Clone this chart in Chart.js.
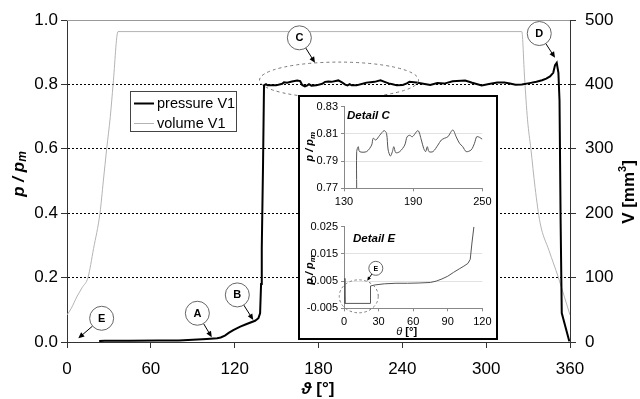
<!DOCTYPE html>
<html><head><meta charset="utf-8">
<script src="https://cdn.jsdelivr.net/npm/chart.js@4/dist/chart.umd.min.js"></script>
<style>
html,body{margin:0;padding:0;background:#fff;}
#wrap{position:relative;width:640px;height:399px;overflow:hidden;background:#fff;}
#main{position:absolute;left:0;top:0;}
#inset{position:absolute;left:298px;top:95px;width:196px;height:241px;border:2px solid #000;background:#fff;}
#cC{position:absolute;left:0;top:0;}
#cE{position:absolute;left:0;top:120px;}
</style></head><body>
<div id="wrap">
<canvas id="main" width="640" height="399"></canvas>
<div id="inset"><canvas id="cC" width="196" height="120"></canvas><canvas id="cE" width="196" height="121"></canvas></div>
</div>
<script>
// ---------- DATA ----------
const seriesLabels = ['pressure V1', 'volume V1'];

const thetaP = [23, 27, 45, 65, 80, 90, 100, 107.5, 110, 113, 116, 119, 124, 128.6, 134.6, 137, 138.2, 138.9, 139.4, 140.3, 141,
  142.4, 143.5, 149.6, 154, 155.3, 157.6, 161, 164.8, 166.9, 168.3, 170.3, 172, 173.2, 174.9, 178.4, 182.7, 184.7, 187, 189.3,
  194.2, 197.1, 199.1, 200.8, 202.3, 203.7, 207.2, 211.5, 214.4, 217.2, 220.1, 224.4, 227.3, 230.2, 233, 236, 240.3, 243.2, 245.1, 250,
  255, 260, 265, 270, 276, 285, 290, 296.8, 302, 308, 313, 317, 321, 325.5, 331, 336, 340, 343, 345.7, 348, 349.3, 350.5, 351.7, 352.5, 353.3, 354.1, 359.5];
const pressure = [0.003, 0.0036, 0.0042, 0.0043, 0.005, 0.0068, 0.0095, 0.0115, 0.014, 0.02, 0.029, 0.037, 0.048, 0.056, 0.066, 0.074, 0.089, 0.18, 0.29, 0.55, 0.797,
  0.8006, 0.797, 0.797, 0.8018, 0.8068, 0.8055, 0.809, 0.8124, 0.8104, 0.7982, 0.7937, 0.797, 0.8006, 0.7962, 0.797, 0.8018, 0.8079, 0.809, 0.8079,
  0.8124, 0.8055, 0.7994, 0.797, 0.8006, 0.797, 0.797, 0.8018, 0.8055, 0.8068, 0.8079, 0.8129, 0.8079, 0.8031, 0.8006, 0.797, 0.7982, 0.8031, 0.8079, 0.806,
  0.802, 0.798, 0.804, 0.8025, 0.81, 0.812, 0.805, 0.797, 0.801, 0.806, 0.806, 0.803, 0.799, 0.800, 0.804, 0.808, 0.813, 0.818, 0.825, 0.836, 0.86, 0.867, 0.836, 0.75, 0.37, 0.09, 0.002];

const thetaV = [0, 3, 7, 11, 15, 19, 23.6, 26, 28.4, 31, 33, 36.5, 325.5, 327.5, 329.6, 332, 335, 338.6, 345, 351.7, 356, 360];
const volume = [42, 52, 70, 85, 100, 145, 200, 250, 300, 350, 400, 482, 482, 410, 345, 300, 240, 185, 142, 100, 70, 42];

const thetaC = [141, 141, 142.4, 143.5, 149.6, 154, 155.3, 157.6, 161, 164.8, 166.9, 168.3, 170.3, 172, 173.2, 174.9, 178.4, 182.7, 184.7, 187, 189.3,
  194.2, 197.1, 199.1, 200.8, 202.3, 203.7, 207.2, 211.5, 214.4, 217.2, 220.1, 224.4, 227.3, 230.2, 233, 236, 240.3, 243.2, 245.1, 247.5, 250];
const pressureC = [0.77, 0.797, 0.8006, 0.797, 0.797, 0.8018, 0.8068, 0.8055, 0.809, 0.8124, 0.8104, 0.7982, 0.7937, 0.797, 0.8006, 0.7962, 0.797, 0.8018, 0.8079, 0.809, 0.8079,
  0.8124, 0.8055, 0.7994, 0.797, 0.8006, 0.797, 0.797, 0.8018, 0.8055, 0.8068, 0.8079, 0.8129, 0.8079, 0.8031, 0.8006, 0.797, 0.7982, 0.8031, 0.8079, 0.8075, 0.806];

const thetaE = [0, 0.8, 22.7, 23, 27, 35, 45, 55, 65, 75, 80, 85, 90, 95, 100, 104, 107.5, 109.5, 111, 112.7];
const pressureE = [0.006, -0.0032, -0.0032, 0.0032, 0.0036, 0.0040, 0.0042, 0.0042, 0.0043, 0.0045, 0.005, 0.0058, 0.0068, 0.0082, 0.0095, 0.0105, 0.0115, 0.013, 0.019, 0.025];

const xTicksMain = [0, 60, 120, 180, 240, 300, 360];
const yTicksMain = [0, 0.2, 0.4, 0.6, 0.8, 1.0];
const y1TicksMain = [0, 100, 200, 300, 400, 500];
const xTicksC = [130, 190, 250];
const yTicksC = [0.77, 0.79, 0.81, 0.83];
const xTicksE = [0, 30, 60, 90, 120];
const yTicksE = [-0.005, 0.005, 0.015, 0.025];

// annotation markers in data units: letter, circle centre (theta, p), arrow target (theta, p)
const markersMain = [
  {t: 'E', c: [24.8, 0.0737], a: [8.1, 0.0115]},
  {t: 'A', c: [93.3, 0.0893], a: [103.6, 0.0146]},
  {t: 'B', c: [121.9, 0.1462], a: [133.3, 0.0684]},
  {t: 'C', c: [166.3, 0.9446], a: [177.5, 0.8669]},
  {t: 'D', c: [338.0, 0.958], a: [349.3, 0.8824]}
];
const ellipseC = {c: [194.7, 0.8134]};
const markerE = {t: 'E', c: [27.6, 0.0097], a: [20.1, 0.0051]};
const circleE = {c: [12.8, -0.0006]};

// ---------- HELPERS ----------
const FF = "'Liberation Sans', Arial, sans-serif";
const pts = (xs, ys) => xs.map((x, i) => ({x: x, y: ys[i]}));
const fixTicks = arr => (s => { s.ticks = arr.map(v => ({value: v})); });

function drawRich(ctx, parts, cx, cy, rot) {
  ctx.save();
  ctx.translate(cx, cy);
  ctx.rotate(rot);
  ctx.textBaseline = 'middle';
  ctx.textAlign = 'left';
  let w = 0;
  parts.forEach(p => { ctx.font = p.f; p.w = ctx.measureText(p.t).width; w += p.w; });
  let x = -w / 2;
  parts.forEach(p => { ctx.font = p.f; ctx.fillStyle = '#000'; ctx.fillText(p.t, x, p.dy || 0); x += p.w; });
  ctx.restore();
}

function drawMarker(ctx, cx, cy, tx, ty, r, letter, fontSize, head) {
  const dx = tx - cx, dy = ty - cy, L = Math.hypot(dx, dy);
  const ux = dx / L, uy = dy / L;
  const sx = cx + ux * r, sy = cy + uy * r;
  ctx.save();
  ctx.strokeStyle = '#000'; ctx.lineWidth = 1;
  ctx.beginPath(); ctx.moveTo(sx, sy); ctx.lineTo(tx - ux * head * 0.8, ty - uy * head * 0.8); ctx.stroke();
  ctx.fillStyle = '#000';
  ctx.beginPath();
  ctx.moveTo(tx, ty);
  ctx.lineTo(tx - ux * head - uy * head * 0.45, ty - uy * head + ux * head * 0.45);
  ctx.lineTo(tx - ux * head + uy * head * 0.45, ty - uy * head - ux * head * 0.45);
  ctx.closePath(); ctx.fill();
  ctx.beginPath(); ctx.arc(cx, cy, r, 0, Math.PI * 2);
  ctx.fillStyle = '#fff'; ctx.fill();
  ctx.strokeStyle = '#666'; ctx.stroke();
  ctx.fillStyle = '#000';
  ctx.font = 'bold ' + fontSize + 'px ' + FF;
  ctx.textAlign = 'center'; ctx.textBaseline = 'middle';
  ctx.fillText(letter, cx, cy + 0.5);
  ctx.restore();
}

// ---------- MAIN CHART ----------
const mainPlugin = {
  id: 'mainDeco',
  beforeDatasetsDraw(chart) {
    const ctx = chart.ctx, a = chart.chartArea;
    ctx.save();
    ctx.strokeStyle = '#999'; ctx.lineWidth = 1;
    ctx.beginPath(); ctx.moveTo(a.left, chart.scales.y.getPixelForValue(1) + 0.5); ctx.lineTo(a.right, chart.scales.y.getPixelForValue(1) + 0.5); ctx.stroke();
    ctx.restore();
  },
  afterDraw(chart) {
    const ctx = chart.ctx, sx = chart.scales.x, sy = chart.scales.y;
    // dashed ellipse around detail C
    ctx.save();
    ctx.strokeStyle = '#777'; ctx.lineWidth = 1; ctx.setLineDash([3, 3]);
    ctx.beginPath();
    ctx.ellipse(sx.getPixelForValue(ellipseC.c[0]), sy.getPixelForValue(ellipseC.c[1]), 79.5, 18, 0, 0, Math.PI * 2);
    ctx.stroke();
    ctx.restore();
    // legend
    ctx.save();
    ctx.fillStyle = '#fff'; ctx.fillRect(130.5, 91.5, 106, 40);
    ctx.strokeStyle = '#444'; ctx.lineWidth = 1; ctx.strokeRect(130.5, 91.5, 106, 40);
    const ds = chart.data.datasets;
    [103.5, 123.5].forEach((y, i) => {
      ctx.strokeStyle = ds[i].borderColor; ctx.lineWidth = ds[i].borderWidth;
      ctx.beginPath(); ctx.moveTo(134, y); ctx.lineTo(154, y); ctx.stroke();
      ctx.fillStyle = '#000'; ctx.font = '14.5px ' + FF; ctx.textAlign = 'left'; ctx.textBaseline = 'middle';
      ctx.fillText(ds[i].label, 157, y);
    });
    ctx.restore();
    // markers
    markersMain.forEach(m => {
      drawMarker(ctx, sx.getPixelForValue(m.c[0]), sy.getPixelForValue(m.c[1]), sx.getPixelForValue(m.a[0]), sy.getPixelForValue(m.a[1]), 12, m.t, 11, 6);
    });
    // axis titles
    drawRich(ctx, [{t: 'p / p', f: 'italic bold 17px ' + FF}, {t: 'm', f: 'italic bold 12px ' + FF, dy: 4}], 19, 174, -Math.PI / 2);
    drawRich(ctx, [{t: 'V [mm', f: 'bold 17px ' + FF}, {t: '3', f: 'bold 11px ' + FF, dy: -6}, {t: ']', f: 'bold 17px ' + FF}], 629, 192, -Math.PI / 2);
    drawRich(ctx, [{t: 'ϑ', f: 'italic bold 17px ' + FF}, {t: ' [°]', f: 'bold 17px ' + FF}], 318, 389, 0);
  }
};

new Chart(document.getElementById('main'), {
  type: 'line',
  data: {
    datasets: [
      {label: seriesLabels[0], data: pts(thetaP, pressure), yAxisID: 'y', borderColor: '#000', borderWidth: 2, pointRadius: 0, tension: 0, fill: false},
      {label: seriesLabels[1], data: pts(thetaV, volume), yAxisID: 'y1', borderColor: '#b4b4b4', borderWidth: 1, pointRadius: 0, tension: 0.3, cubicInterpolationMode: 'monotone', fill: false}
    ]
  },
  options: {
    responsive: false, animation: false, devicePixelRatio: 1,
    layout: {padding: {top: 20, left: 0, right: 0, bottom: 0}},
    plugins: {legend: {display: false}, tooltip: {enabled: false}},
    scales: {
      x: {
        type: 'linear', min: 0, max: 360, afterBuildTicks: fixTicks(xTicksMain),
        afterFit: s => { s.height = 57; },
        grid: {drawOnChartArea: false, tickLength: 6, tickColor: '#333'},
        border: {color: '#333'},
        ticks: {autoSkip: false, maxRotation: 0, padding: 11.5, color: '#000', font: {family: FF, size: 17}}
      },
      y: {
        position: 'left', min: 0, max: 1, afterBuildTicks: fixTicks(yTicksMain),
        afterFit: s => { s.width = 67; },
        grid: {color: c => (c.tick && c.tick.value > 0.01 && c.tick.value < 0.99) ? '#000' : 'rgba(0,0,0,0)', tickColor: '#333', tickLength: 6},
        border: {color: '#333', dash: [2, 2]},
        ticks: {padding: 3, color: '#000', font: {family: FF, size: 17}, callback: v => v.toFixed(1)}
      },
      y1: {
        position: 'right', min: 0, max: 500, afterBuildTicks: fixTicks(y1TicksMain),
        afterFit: s => { s.width = 70; },
        grid: {drawOnChartArea: false, tickColor: '#333', tickLength: 6},
        border: {color: '#333'},
        ticks: {padding: 9, color: '#000', font: {family: FF, size: 17}, callback: v => String(v)}
      }
    }
  },
  plugins: [mainPlugin]
});

// ---------- INSETS ----------
function insetOptions(xmin, xmax, xt, ymin, ymax, yt, yfmt, xh) {
  return {
    responsive: false, animation: false, devicePixelRatio: 1,
    layout: {padding: {top: 9.7, right: 13, left: 0, bottom: 0}},
    plugins: {legend: {display: false}, tooltip: {enabled: false}},
    scales: {
      x: {
        type: 'linear', min: xmin, max: xmax, afterBuildTicks: fixTicks(xt),
        afterFit: s => { s.height = xh; },
        grid: {drawOnChartArea: false, tickLength: 3, tickColor: '#888'},
        border: {color: '#888'},
        ticks: {autoSkip: false, maxRotation: 0, padding: 4.5, color: '#000', font: {family: FF, size: 11}}
      },
      y: {
        min: ymin, max: ymax, afterBuildTicks: fixTicks(yt),
        afterFit: s => { s.width = 44; },
        grid: {color: c => (c.index > 0 && c.index < yt.length - 1) ? '#e2e2e2' : 'rgba(0,0,0,0)', tickLength: 3, tickColor: '#888'},
        border: {color: '#888'},
        ticks: {padding: 3, color: '#000', font: {family: FF, size: 11}, callback: yfmt}
      }
    }
  };
}

const pmTitle = [{t: 'p / p', f: 'italic bold 11px ' + FF}, {t: 'm', f: 'italic bold 8px ' + FF, dy: 2.5}];

new Chart(document.getElementById('cC'), {
  type: 'line',
  data: {datasets: [{label: 'Detail C', data: pts(thetaC, pressureC), borderColor: '#555', borderWidth: 1, pointRadius: 0, tension: 0.3}]},
  options: insetOptions(130, 250, xTicksC, 0.77, 0.83, yTicksC, v => v.toFixed(2), 28.7),
  plugins: [{
    id: 'decoC',
    afterDraw(chart) {
      const ctx = chart.ctx;
      ctx.save(); ctx.fillStyle = '#000'; ctx.font = 'italic bold 11.5px ' + FF; ctx.textAlign = 'left'; ctx.textBaseline = 'middle';
      ctx.fillText('Detail C', 47, 18.5); ctx.restore();
      drawRich(ctx, pmTitle, 10, 49.7, -Math.PI / 2);
    }
  }]
});

new Chart(document.getElementById('cE'), {
  type: 'line',
  data: {datasets: [{label: 'Detail E', data: pts(thetaE, pressureE), borderColor: '#555', borderWidth: 1, pointRadius: 0, tension: 0}]},
  options: insetOptions(0, 120, xTicksE, -0.005, 0.025, yTicksE, v => v.toFixed(3), 29.7),
  plugins: [{
    id: 'decoE',
    afterDraw(chart) {
      const ctx = chart.ctx, sx = chart.scales.x, sy = chart.scales.y;
      ctx.save(); ctx.fillStyle = '#000'; ctx.font = 'italic bold 11.5px ' + FF; ctx.textAlign = 'left'; ctx.textBaseline = 'middle';
      ctx.fillText('Detail E', 53, 21.5); ctx.restore();
      drawRich(ctx, pmTitle, 10, 53, -Math.PI / 2);
      drawRich(ctx, [{t: 'θ', f: 'italic 11px ' + FF}, {t: ' [°]', f: 'bold 11px ' + FF}], 106.7, 115.3, 0);
      ctx.save();
      ctx.strokeStyle = '#777'; ctx.lineWidth = 1; ctx.setLineDash([2.5, 2.5]);
      ctx.beginPath(); ctx.ellipse(sx.getPixelForValue(circleE.c[0]), sy.getPixelForValue(circleE.c[1]), 19.5, 16.5, 0, 0, Math.PI * 2); ctx.stroke();
      ctx.restore();
      drawMarker(ctx, sx.getPixelForValue(markerE.c[0]), sy.getPixelForValue(markerE.c[1]), sx.getPixelForValue(markerE.a[0]), sy.getPixelForValue(markerE.a[1]), 7, markerE.t, 7, 4);
    }
  }]
});
</script>
</body></html>
